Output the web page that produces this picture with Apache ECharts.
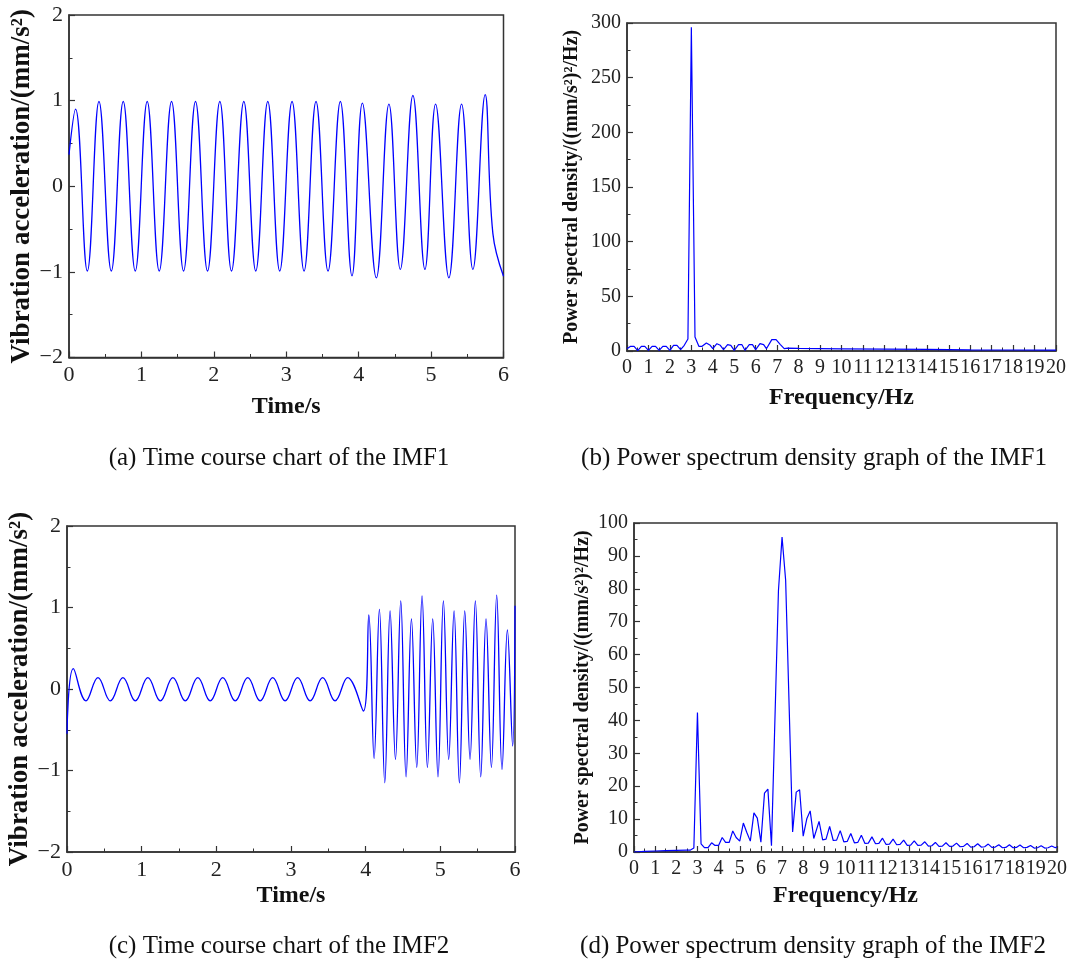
<!DOCTYPE html>
<html><head><meta charset="utf-8">
<script src="https://cdn.jsdelivr.net/npm/echarts@6/dist/echarts.min.js"></script>
<style>html,body{margin:0;padding:0;background:#fff}#c{width:1073px;height:964px}</style>
</head><body><div id="c"></div>
<script>
// ---- (a) IMF1 time course: extrema ----
const imf1Time = [0, 0.09, 0.253, 0.414, 0.584, 0.749, 0.915, 1.080, 1.246, 1.416, 1.582, 1.747, 1.913, 2.083, 2.244, 2.414, 2.579, 2.745, 2.910, 3.080, 3.246, 3.411, 3.577, 3.747, 3.908, 4.051, 4.244, 4.418, 4.575, 4.749, 4.915, 5.062, 5.246, 5.421, 5.577, 5.747, 5.853, 6.0];
const imf1Value = [0.37, 0.90, -0.99, 0.99, -0.99, 0.99, -0.99, 0.99, -0.99, 0.99, -0.99, 0.99, -0.99, 0.99, -0.99, 0.99, -0.99, 0.99, -0.99, 0.99, -0.99, 0.99, -0.99, 0.99, -1.045, 0.97, -1.07, 0.96, -0.97, 1.06, -0.97, 0.96, -1.07, 0.96, -0.97, 1.07, -0.55, -1.05];

// ---- (b) IMF1 power spectrum ----
const freqB = [0, 0.17, 0.33, 0.5, 0.67, 0.83, 1.0, 1.17, 1.33, 1.5, 1.67, 1.83, 2.0, 2.17, 2.33, 2.5, 2.67, 2.84, 3.0, 3.17, 3.35, 3.5, 3.7, 3.88, 4.0, 4.19, 4.35, 4.5, 4.69, 4.84, 5.0, 5.2, 5.36, 5.5, 5.7, 5.85, 6.0, 6.2, 6.37, 6.5, 6.75, 6.95, 7.14, 7.33, 7.5, 8, 10, 12, 14, 16, 18, 20];
const psdB = [2, 4.3, 4.3, 0.3, 4.3, 4.3, 0.6, 4.3, 4.3, 0.6, 4.3, 4.3, 0.6, 5.2, 5.2, 1.2, 5.2, 11, 296, 12.8, 4.3, 4.3, 7.3, 5.2, 2.1, 6.7, 5.2, 1.2, 5.8, 5.2, 0.6, 5.8, 5.8, 0.6, 5.8, 5.8, 1.2, 6.7, 5.8, 2.1, 10.4, 10.4, 6.1, 2.1, 2.6, 2.4, 2.0, 1.7, 1.4, 1.1, 0.9, 0.8];

// ---- (c) IMF2 time course: extrema ----
const imf2Time = [0, 0.085, 0.254, 0.415, 0.58, 0.749, 0.915, 1.083, 1.25, 1.418, 1.584, 1.752, 1.918, 2.086, 2.253, 2.421, 2.587, 2.755, 2.921, 3.089, 3.256, 3.424, 3.59, 3.758, 3.97, 4.042, 4.113, 4.184, 4.256, 4.327, 4.399, 4.470, 4.541, 4.613, 4.684, 4.755, 4.827, 4.898, 4.969, 5.041, 5.112, 5.184, 5.255, 5.327, 5.398, 5.469, 5.541, 5.612, 5.684, 5.755, 5.826, 5.898, 5.969, 6.0];
const imf2Value = [-0.55, 0.25, -0.145, 0.14, -0.145, 0.14, -0.145, 0.14, -0.145, 0.14, -0.145, 0.14, -0.145, 0.14, -0.145, 0.14, -0.145, 0.14, -0.145, 0.14, -0.145, 0.14, -0.145, 0.14, -0.27, 0.908, -0.851, 0.978, -1.15, 0.957, -0.863, 1.08, -1.077, 0.859, -0.961, 1.141, -0.961, 0.859, -1.077, 1.08, -0.863, 0.957, -1.15, 0.957, -0.863, 1.08, -1.077, 0.859, -0.961, 1.153, -0.985, 0.724, -0.70, 1.02];

// ---- (d) IMF2 power spectrum ----
const freqD = [0, 0.5, 1.0, 1.5, 2.0, 2.5, 2.67, 2.83, 3.0, 3.17, 3.33, 3.5, 3.67, 3.83, 4.0, 4.17, 4.33, 4.5, 4.67, 4.83, 5.0, 5.17, 5.33, 5.5, 5.67, 5.83, 6.0, 6.17, 6.33, 6.5, 6.83, 7.0, 7.17, 7.5, 7.67, 7.83, 8.0, 8.17, 8.33, 8.5,
  8.75, 8.92, 9.08, 9.25, 9.42, 9.58, 9.75, 9.92, 10.08, 10.25, 10.42, 10.58, 10.75, 10.92, 11.08, 11.25, 11.42, 11.58, 11.75, 11.92, 12.08, 12.25, 12.42, 12.58, 12.75, 12.92, 13.08, 13.25, 13.42, 13.58, 13.75, 13.92, 14.08, 14.25, 14.42, 14.58, 14.75, 14.92, 15.08, 15.25, 15.42, 15.58, 15.75, 15.92, 16.08, 16.25, 16.42, 16.58, 16.75, 16.92, 17.08, 17.25, 17.42, 17.58, 17.75, 17.92, 18.08, 18.25, 18.42, 18.58, 18.75, 18.92, 19.08, 19.25, 19.42, 19.58, 19.75, 19.92, 20];
const psdD = [0, 0.2, 0.3, 0.4, 0.5, 0.6, 0.6, 1.2, 42.4, 2.5, 1.3, 1.3, 2.8, 2.0, 2.0, 4.4, 2.9, 2.9, 6.4, 4.4, 3.3, 8.8, 6.0, 3.3, 11.9, 10.3, 3.0, 17.9, 19.1, 1.9, 79.5, 95.7, 82.6, 6.1, 18.2, 18.9, 4.8, 10.1, 12.5, 4.1,
  9.3, 3.7, 3.9, 7.8, 3.5, 3.6, 6.5, 3.1, 3.2, 5.6, 2.8, 2.9, 5.1, 2.6, 2.7, 4.6, 2.5, 2.6, 4.2, 2.3, 2.4, 3.9, 2.2, 2.3, 3.6, 2.0, 2.1, 3.4, 2.0, 2.1, 3.1, 1.8, 1.9, 2.9, 1.7, 1.8, 2.8, 1.7, 1.8, 2.7, 1.6, 1.7, 2.6, 1.5, 1.6, 2.5, 1.5, 1.6, 2.4, 1.4, 1.5, 2.2, 1.3, 1.4, 2.2, 1.3, 1.4, 2.1, 1.3, 1.4, 2.0, 1.2, 1.3, 1.9, 1.2, 1.3, 1.8, 1.3, 1.6];

const captions = ['(a) Time course chart of the IMF1', '(b) Power spectrum density graph of the IMF1', '(c) Time course chart of the IMF2', '(d) Power spectrum density graph of the IMF2'];
const timeTitle = 'Time/s';
const freqTitle = 'Frequency/Hz';
const accTitle = 'Vibration acceleration/(mm/s\u00B2)';
const psdTitle = 'Power spectral density/((mm/s\u00B2)\u00B2/Hz)';

const SERIF = '"Liberation Serif","Times New Roman",serif';
const AXC = '#333';
const LINE = '#0000ff';
function minus(v) { return String(v).replace('-', '\u2212'); }
function pairs(xs, ys) { return xs.map((x, i) => [x, ys[i]]); }

function xAx(gi, max, name, gap, fs) {
  return {
    gridIndex: gi, type: 'value', min: 0, max: max, interval: 1,
    axisLine: { show: true, onZero: false, lineStyle: { color: AXC, width: 1.5 } },
    axisTick: { show: true, inside: true, length: 6, lineStyle: { color: AXC, width: 1.2 } },
    minorTick: { show: true, splitNumber: 2, length: 3.5, lineStyle: { color: AXC, width: 1 } },
    splitLine: { show: false },
    axisLabel: { fontFamily: SERIF, fontSize: fs, color: '#222', margin: 7, formatter: minus },
    name: name, nameLocation: 'middle', nameGap: gap,
    nameTextStyle: { fontFamily: SERIF, fontWeight: 'bold', fontSize: 24, color: '#111' }
  };
}
function yAx(gi, min, max, interval, name, gap, nfs, fs) {
  return {
    gridIndex: gi, type: 'value', min: min, max: max, interval: interval,
    axisLine: { show: true, onZero: false, lineStyle: { color: AXC, width: 1.5 } },
    axisTick: { show: true, inside: true, length: 6, lineStyle: { color: AXC, width: 1.2 } },
    minorTick: { show: true, splitNumber: 2, length: 3.5, lineStyle: { color: AXC, width: 1 } },
    splitLine: { show: false },
    axisLabel: { fontFamily: SERIF, fontSize: fs, color: '#222', margin: 6, formatter: minus },
    name: name, nameLocation: 'middle', nameGap: gap, nameRotate: 90,
    nameTextStyle: { fontFamily: SERIF, fontWeight: 'bold', fontSize: nfs, color: '#111' }
  };
}
const gridBase = { show: true, borderColor: AXC, borderWidth: 1.5, backgroundColor: 'transparent', containLabel: false, outerBoundsMode: 'none' };
const capStyle = { fontFamily: SERIF, fontSize: 25, fill: '#111', align: 'center', verticalAlign: 'middle' };

const option = {
  animation: false,
  backgroundColor: '#fff',
  grid: [
    Object.assign({ left: 69, top: 15, width: 434.5, height: 342.5 }, gridBase),
    Object.assign({ left: 627, top: 23, width: 429, height: 328 }, gridBase),
    Object.assign({ left: 67, top: 526, width: 448, height: 326 }, gridBase),
    Object.assign({ left: 634, top: 523, width: 423, height: 329 }, gridBase)
  ],
  xAxis: [
    xAx(0, 6, timeTitle, 37, 22),
    xAx(1, 20, freqTitle, 35, 20),
    xAx(2, 6, timeTitle, 32, 22),
    xAx(3, 20, freqTitle, 32, 20)
  ],
  yAxis: [
    yAx(0, -2, 2, 1, accTitle, 31, 27, 22),
    yAx(1, 0, 300, 50, psdTitle, 45, 20, 20),
    yAx(2, -2, 2, 1, accTitle, 29, 27, 22),
    yAx(3, 0, 100, 10, psdTitle, 41, 20, 20)
  ],
  series: [
    { type: 'line', xAxisIndex: 0, yAxisIndex: 0, data: pairs(imf1Time, imf1Value), smooth: 0.42, showSymbol: false, lineStyle: { color: LINE, width: 1.3 } },
    { type: 'line', xAxisIndex: 1, yAxisIndex: 1, data: pairs(freqB, psdB), showSymbol: false, lineStyle: { color: LINE, width: 1.2 } },
    { type: 'line', xAxisIndex: 2, yAxisIndex: 2, data: pairs(imf2Time, imf2Value), smooth: 0.42, showSymbol: false, lineStyle: { color: LINE, width: 1.3 } },
    { type: 'line', xAxisIndex: 3, yAxisIndex: 3, data: pairs(freqD, psdD), showSymbol: false, lineStyle: { color: LINE, width: 1.2 } }
  ],
  graphic: [
    { type: 'text', x: 279, y: 458, style: Object.assign({ text: captions[0] }, capStyle) },
    { type: 'text', x: 814, y: 458, style: Object.assign({ text: captions[1] }, capStyle) },
    { type: 'text', x: 279, y: 946, style: Object.assign({ text: captions[2] }, capStyle) },
    { type: 'text', x: 813, y: 946, style: Object.assign({ text: captions[3] }, capStyle) }
  ]
};
const chart = echarts.init(document.getElementById('c'), null, { renderer: 'canvas' });
chart.setOption(option);
</script>
</body></html>
